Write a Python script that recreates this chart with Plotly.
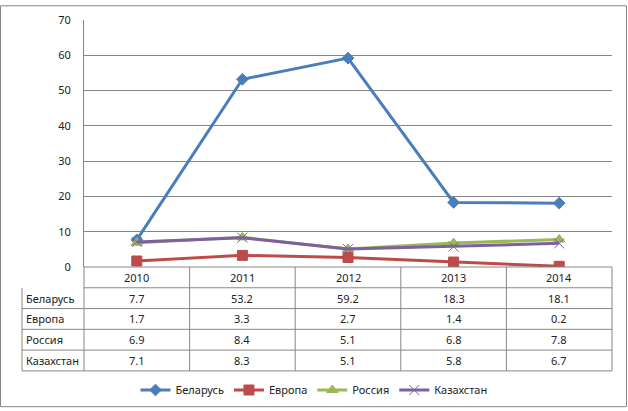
import plotly.graph_objects as go

years = ['2010', '2011', '2012', '2013', '2014']
countries = ['Беларусь', 'Европа', 'Россия', 'Казахстан']
belarus = [7.7, 53.2, 59.2, 18.3, 18.1]
europe = [1.7, 3.3, 2.7, 1.4, 0.2]
russia = [6.9, 8.4, 5.1, 6.8, 7.8]
kazakhstan = [7.1, 8.3, 5.1, 5.8, 6.7]
series = [belarus, europe, russia, kazakhstan]

colors = ['#4A7EBB', '#BE4B48', '#98B954', '#7D60A0']
symbols = ['diamond', 'square', 'triangle-up', 'x-thin']
sizes = [9, 10, 10, 10]

W, H = 628, 411
L, R, T, B = 84, 612, 15, 267
grid = '#868686'
font = dict(family='Noto Sans', size=11, color='#222222')

def px(x):
    return (x - L) / (R - L)

def py(y):
    return (B - y) / (B - T)

fig = go.Figure()
for name, vals, c, s, sz in zip(countries, series, colors, symbols, sizes):
    fig.add_trace(go.Scatter(
        x=years, y=vals, name=name, mode='lines+markers',
        line=dict(color=c, width=3),
        marker=dict(symbol=s, size=sz, color=c,
                    line=dict(color=c, width=1))
    ))

# data table under the plot
col_w = (R - L) / len(years)
row_h = 21.2
rows_y = [B + i * row_h for i in range(len(countries) + 2)]
shapes = []
line = dict(color=grid, width=1)
for i in range(1, len(rows_y)):
    x0 = L if i == 1 else 22
    shapes.append(dict(type='line', xref='paper', yref='paper',
                       x0=px(x0), x1=px(R), y0=py(rows_y[i]), y1=py(rows_y[i]), line=line))
shapes.append(dict(type='line', xref='paper', yref='paper',
                   x0=px(L), x1=px(R), y0=py(B), y1=py(B), line=line))
for j in range(len(years) + 1):
    xx = L + j * col_w
    shapes.append(dict(type='line', xref='paper', yref='paper',
                       x0=px(xx), x1=px(xx), y0=py(B), y1=py(rows_y[-1]), line=line))
shapes.append(dict(type='line', xref='paper', yref='paper',
                   x0=px(22), x1=px(22), y0=py(rows_y[1]), y1=py(rows_y[-1]), line=line))
# outer frame
shapes.append(dict(type='rect', xref='paper', yref='paper',
                   x0=px(0.5), x1=px(W - 1.5), y0=py(0.5), y1=py(H - 1.5),
                   line=dict(color=grid, width=1)))

ann = []
for j, yr in enumerate(years):
    ann.append(dict(text=yr, xref='paper', yref='paper', showarrow=False,
                    x=px(L + (j + 0.5) * col_w), y=py((rows_y[0] + rows_y[1]) / 2),
                    xanchor='center', yanchor='middle', font=font))
for i, (name, vals) in enumerate(zip(countries, series)):
    yc = py((rows_y[i + 1] + rows_y[i + 2]) / 2)
    ann.append(dict(text=name, xref='paper', yref='paper', showarrow=False,
                    x=px(24), y=yc, xanchor='left', yanchor='middle', font=font))
    for j, v in enumerate(vals):
        ann.append(dict(text=f'{v:.1f}', xref='paper', yref='paper', showarrow=False,
                        x=px(L + (j + 0.5) * col_w), y=yc,
                        xanchor='center', yanchor='middle', font=font))

fig.update_xaxes(range=[-0.5, 4.5], showticklabels=False, showgrid=False,
                 zeroline=False, showline=False, fixedrange=True)
fig.update_yaxes(range=[0, 70], dtick=10, showgrid=True, gridcolor=grid, gridwidth=1,
                 zeroline=False, showline=True, linecolor=grid, linewidth=1,
                 ticks='', ticklabelstandoff=10, tickfont=font)
fig.update_layout(
    width=W, height=H,
    margin=dict(l=L, r=W - R, t=T, b=H - B),
    paper_bgcolor='white', plot_bgcolor='white',
    showlegend=True,
    legend=dict(orientation='h', xref='container', yref='container',
                x=0.5, xanchor='center', y=1 - 390 / H, yanchor='middle',
                font=font, itemwidth=30, tracegroupgap=0),
    shapes=shapes, annotations=ann, font=font
)
fig.write_html('out.html', config={'displayModeBar': False},
               post_script="document.body.style.margin='0';")
